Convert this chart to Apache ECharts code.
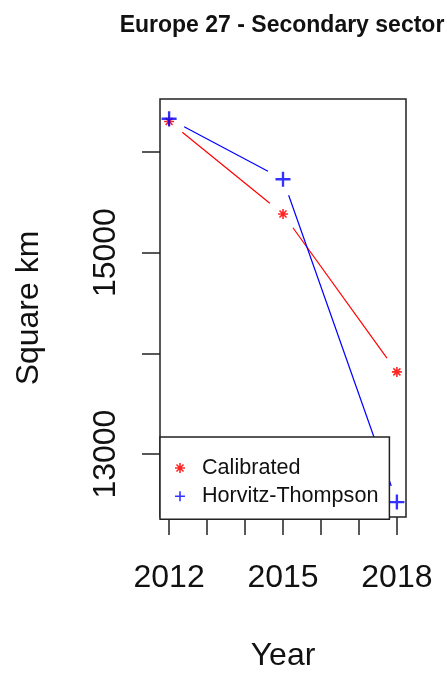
<!DOCTYPE html>
<html>
<head>
<meta charset="utf-8">
<script src="https://cdn.jsdelivr.net/npm/echarts@6/dist/echarts.min.js"></script>
<style>
html,body{margin:0;padding:0;background:#fff;}
#chart{width:447px;height:677px;}
</style>
</head>
<body>
<div id="chart"></div>
<script>
// ---- data ----
var years = [2012, 2015, 2018];
var calibrated = [16301, 15383, 13816];
var horvitzThompson = [16328, 15728, 12524];
var xTickValues = [2012, 2013, 2014, 2015, 2016, 2017, 2018];
var xLabelValues = [2012, 2015, 2018];
var yTickValues = [13000, 14000, 15000, 16000];
var yLabelValues = [13000, 15000];
var seriesNames = ['Calibrated', 'Horvitz-Thompson'];
var titleText = 'Europe 27 - Secondary sector';
var xName = 'Year';
var yName = 'Square km';
var xRange = [2011.76, 2018.24];
var yRange = [12376, 16524];

function pairs(xs, ys) { return xs.map(function (x, i) { return [x, ys[i]]; }); }
function segments(xs, ys) {
  var out = [];
  for (var i = 0; i < xs.length - 1; i++) out.push([xs[i], ys[i], xs[i + 1], ys[i + 1]]);
  return out;
}

var GAP = 17;
function segRenderer(color) {
  return function (params, api) {
    var p0 = api.coord([api.value(0), api.value(1)]);
    var p1 = api.coord([api.value(2), api.value(3)]);
    var dx = p1[0] - p0[0], dy = p1[1] - p0[1];
    var len = Math.sqrt(dx * dx + dy * dy);
    if (len <= 2 * GAP) return null;
    var ux = dx / len, uy = dy / len;
    return {
      type: 'line',
      shape: { x1: p0[0] + ux * GAP, y1: p0[1] + uy * GAP, x2: p1[0] - ux * GAP, y2: p1[1] - uy * GAP },
      style: { stroke: color, lineWidth: 1.2 }
    };
  };
}

var plusPath = 'path://M-1.1,-7H1.1V-1.1H7V1.1H1.1V7H-1.1V1.1H-7V-1.1H-1.1Z';
var starPath = 'path://M-5,-0.8H5V0.8H-5Z M-0.8,-5H0.8V5H-0.8Z M-2.97,-4.10L4.10,2.97L2.97,4.10L-4.10,-2.97Z M-4.10,2.97L2.97,-4.10L4.10,-2.97L-2.97,4.10Z';

var RED = '#ff0000', BLUE = '#0000ff', INK = '#222222';
var FONT = '"Liberation Sans", Arial, sans-serif';

var chart = echarts.init(document.getElementById('chart'), null, { renderer: 'canvas' });
chart.setOption({
  backgroundColor: '#ffffff',
  animation: false,
  title: {
    text: titleText, left: 277, top: 9, textAlign: 'center',
    textStyle: { fontFamily: FONT, fontSize: 23, fontWeight: 'bold', color: '#111' }
  },
  grid: {
    left: 160, top: 99, width: 246, height: 421.5,
    show: true, borderColor: INK, borderWidth: 1.5, backgroundColor: 'transparent'
  },
  xAxis: {
    type: 'value', min: xRange[0], max: xRange[1],
    name: xName, nameLocation: 'middle', nameGap: 123,
    nameTextStyle: { fontFamily: FONT, fontSize: 32, color: '#111' },
    splitLine: { show: false },
    axisLine: { show: false },
    axisTick: { show: true, length: 18, customValues: xTickValues, lineStyle: { color: INK, width: 1.5 } },
    axisLabel: { customValues: xLabelValues, margin: 45, fontFamily: FONT, fontSize: 32, color: '#111',
      formatter: function (v) { return String(v); } }
  },
  yAxis: {
    type: 'value', min: yRange[0], max: yRange[1],
    name: yName, nameLocation: 'middle', nameGap: 115,
    nameTextStyle: { fontFamily: FONT, fontSize: 32, color: '#111' },
    splitLine: { show: false },
    axisLine: { show: false },
    axisTick: { show: true, length: 18, customValues: yTickValues, lineStyle: { color: INK, width: 1.5 } },
    axisLabel: { customValues: yLabelValues, rotate: 90, margin: 38, fontFamily: FONT, fontSize: 32, color: '#111',
      formatter: function (v) { return String(v); } }
  },
  legend: {
    orient: 'vertical', left: 160, top: 437,
    data: seriesNames,
    formatter: function (name) { return '  ' + name; },
    backgroundColor: '#ffffff', borderColor: INK, borderWidth: 1.5, borderRadius: 0,
    padding: [20, 11, 12, 15],
    itemWidth: 10, itemHeight: 10, itemGap: 6.3,
    selectedMode: false,
    textStyle: { fontFamily: FONT, fontSize: 21.6, lineHeight: 22, color: '#111' }
  },
  series: [
    {
      name: 'cal-lines', type: 'custom', data: segments(years, calibrated),
      encode: { x: [0, 2], y: [1, 3] }, renderItem: segRenderer(RED), z: 2, silent: true
    },
    {
      name: seriesNames[0], type: 'scatter', data: pairs(years, calibrated),
      symbol: starPath, symbolSize: 10, itemStyle: { color: RED, opacity: 0.85 }, z: 3
    },
    {
      name: 'ht-lines', type: 'custom', data: segments(years, horvitzThompson),
      encode: { x: [0, 2], y: [1, 3] }, renderItem: segRenderer(BLUE), z: 2, silent: true
    },
    {
      name: seriesNames[1], type: 'scatter', data: pairs(years, horvitzThompson),
      symbol: plusPath, symbolSize: 15, itemStyle: { color: BLUE }, z: 3
    }
  ]
});
</script>
</body>
</html>
